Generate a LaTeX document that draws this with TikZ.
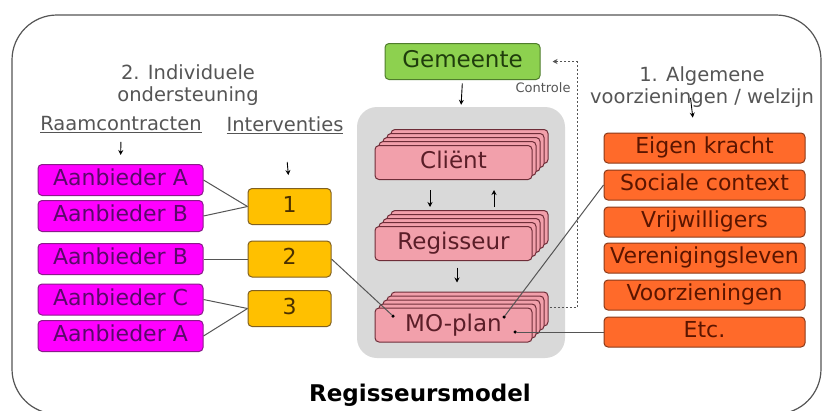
\documentclass[tikz,border=0pt]{standalone}
\usepackage{fontspec}
\setmainfont{DejaVu Sans}
\usetikzlibrary{shadows,arrows.meta}

\definecolor{magfill}{HTML}{FF00FF}
\definecolor{magline}{HTML}{8B1A8B}
\definecolor{magtext}{HTML}{5A0A6A}
\definecolor{yelfill}{HTML}{FFC000}
\definecolor{yelline}{HTML}{806020}
\definecolor{yeltext}{HTML}{4A3000}
\definecolor{orafill}{HTML}{FF6A2A}
\definecolor{oraline}{HTML}{8A3A1A}
\definecolor{oratext}{HTML}{5A1500}
\definecolor{pinkfill}{HTML}{F2A0AB}
\definecolor{pinkline}{HTML}{6E2D38}
\definecolor{pinktext}{HTML}{5A1E28}
\definecolor{grnfill}{HTML}{8DD14F}
\definecolor{grnline}{HTML}{4F7D2C}
\definecolor{grntext}{HTML}{1F3D0C}
\definecolor{kerngrey}{HTML}{D9D9D9}
\definecolor{kopgrey}{HTML}{555555}

\begin{document}
\begin{tikzpicture}[x=1pt,y=-1pt,
	box/.style={draw,rounded corners=4pt,line width=1pt,minimum height=30pt,inner sep=0pt,
		text height=15.5pt,text depth=4.5pt,font=\fontsize{22}{22}\selectfont},
	aanbieder/.style={box,fill=magfill,draw=magline,text=magtext,minimum width=165pt,minimum height=31pt},
	interv/.style={box,fill=yelfill,draw=yelline,text=yeltext,minimum width=83pt,minimum height=36pt},
	welzijn/.style={box,fill=orafill,draw=oraline,text=oratext,minimum width=201pt},
	stapel/.style={box,fill=pinkfill,draw=pinkline,text=pinktext,minimum width=157pt,minimum height=34pt,
		font=\fontsize{23}{23}\selectfont,text height=16.5pt,text depth=4.5pt,
		copy shadow={shadow xshift=16pt,shadow yshift=16pt},
		copy shadow={shadow xshift=12pt,shadow yshift=12pt},
		copy shadow={shadow xshift=8pt,shadow yshift=8pt},
		copy shadow={shadow xshift=4pt,shadow yshift=4pt}},
	kop/.style={text=kopgrey,align=center,font=\fontsize{19.5}{21.5}\selectfont},
	pijl/.style={-{Stealth[length=5pt,width=5pt]},line width=0.9pt},
	lijn/.style={draw=kopgrey,line width=1pt},
	ctrl/.style={-{Stealth[length=5pt,width=5pt]},draw=kopgrey,line width=1pt,dash pattern=on 2pt off 2pt},
	stip/.style={circle,fill=black,inner sep=0pt,minimum size=3.5pt}]
	\useasboundingbox (0,0) rectangle (824,410);
	%========
	%Frame
	%========
	\draw[kopgrey,line width=1.2pt,rounded corners=45pt] (12,15) rectangle (821,414);
	\node[fill=kerngrey,rounded corners=20pt,minimum width=208pt,minimum height=251pt] (kern) at (461,232.5) {};
	
	%========
	%Headings
	%========
	\node[kop] (indiv) at (188,85) {2. Individuele\\ondersteuning};
	\node[kop] (raam) at (121,125) {\underline{Raamcontracten}};
	\node[kop] (interventies) at (285,125) {\underline{Interventies}};
	\node[kop] (alg) at (702,87) {1. Algemene\\voorzieningen / welzijn};
	\node[text=kopgrey,font=\fontsize{13}{13}\selectfont] (contr) at (543,88) {Controle};
	\node[font=\bfseries\fontsize{23}{23}\selectfont] (titel) at (420,395) {Regisseursmodel};
	
	%========
	%Left: individual support
	%========
	\node[aanbieder] (aanA) at (120.5,180) {Aanbieder A};
	\node[aanbieder] (aanB) at (120.5,216) {Aanbieder B};
	\node[aanbieder] (aanBb) at (120.5,259) {Aanbieder B};
	\node[aanbieder] (aanC) at (120.5,299.5) {Aanbieder C};
	\node[aanbieder] (aanAb) at (120.5,336) {Aanbieder A};
	
	\node[interv] (int1) at (289.5,206.5) {1};
	\node[interv] (int2) at (289.5,259) {2};
	\node[interv] (int3) at (289.5,308.5) {3};
	
	%========
	%Centre
	%========
	\node[box,fill=grnfill,draw=grnline,text=grntext,minimum width=155pt,minimum height=36pt,
		font=\fontsize{23}{23}\selectfont,text height=16.5pt] (gem) at (462.5,61.5) {Gemeente};
	\node[stapel] (client) at (453.5,162.5) {Cliënt};
	\node[stapel] (regie) at (453.5,243.5) {Regisseur};
	\node[stapel] (mo) at (453.5,325) {MO-plan};
	
	%========
	%Right: general provisions
	%========
	\node[welzijn] (eigen) at (704.5,148) {Eigen kracht};
	\node[welzijn] (soc) at (704.5,185) {Sociale context};
	\node[welzijn] (vrij) at (704.5,222) {Vrijwilligers};
	\node[welzijn] (ver) at (704.5,258) {Verenigingsleven};
	\node[welzijn] (voorz) at (704.5,295) {Voorzieningen};
	\node[welzijn] (etc) at (704.5,332) {Etc.};
	
	%========
	%Arrows
	%========
	\draw[pijl,shorten <=5pt,shorten >=9pt] (raam.south) -- (aanA.north);
	\draw[pijl,shorten <=25pt,shorten >=13pt] (interventies.south) -- (int1.north);
	\draw[pijl,shorten <=3.5pt,shorten >=2pt] (gem.south) -- (kern.north);
	\draw[pijl,shorten <=10pt,shorten >=19pt] ([xshift=-23.5pt]client.south) -- ([xshift=-23.5pt]regie.north);
	\draw[pijl,shorten <=19pt,shorten >=10pt] ([xshift=40.5pt]regie.north) -- ([xshift=40.5pt]client.south);
	\draw[pijl,shorten <=6.5pt,shorten >=25pt] ([xshift=3.5pt]regie.south) -- ([xshift=3.5pt]mo.north);
	\draw[pijl,shorten <=-13pt,shorten >=15pt] ([xshift=-10pt]alg.south) -- ([xshift=-10pt]eigen.north);
	
	\coordinate (ctrlhoek) at (577,307);
	\draw[ctrl] ([shift={(17pt,18pt)}]mo.east) -- (ctrlhoek) |- ([xshift=12pt]gem.east);
	
	%========
	%Connectors
	%========
	\node[stip] (dotL) at (393,316) {};
	\node[stip] (dotR) at (504,317) {};
	\node[stip] (dotB) at (515,332) {};
	
	\draw[lijn] (aanA.east) -- (int1.west);
	\draw[lijn] (aanB.east) -- (int1.west);
	\draw[lijn] (aanBb.east) -- (int2.west);
	\draw[lijn] (aanC.east) -- (int3.west);
	\draw[lijn] (aanAb.east) -- (int3.west);
	\draw[lijn] (int2.east) -- (dotL);
	\draw[lijn] (dotR) -- (soc.west);
	\draw[lijn] (dotB) -- (etc.west);
\end{tikzpicture}
\end{document}
